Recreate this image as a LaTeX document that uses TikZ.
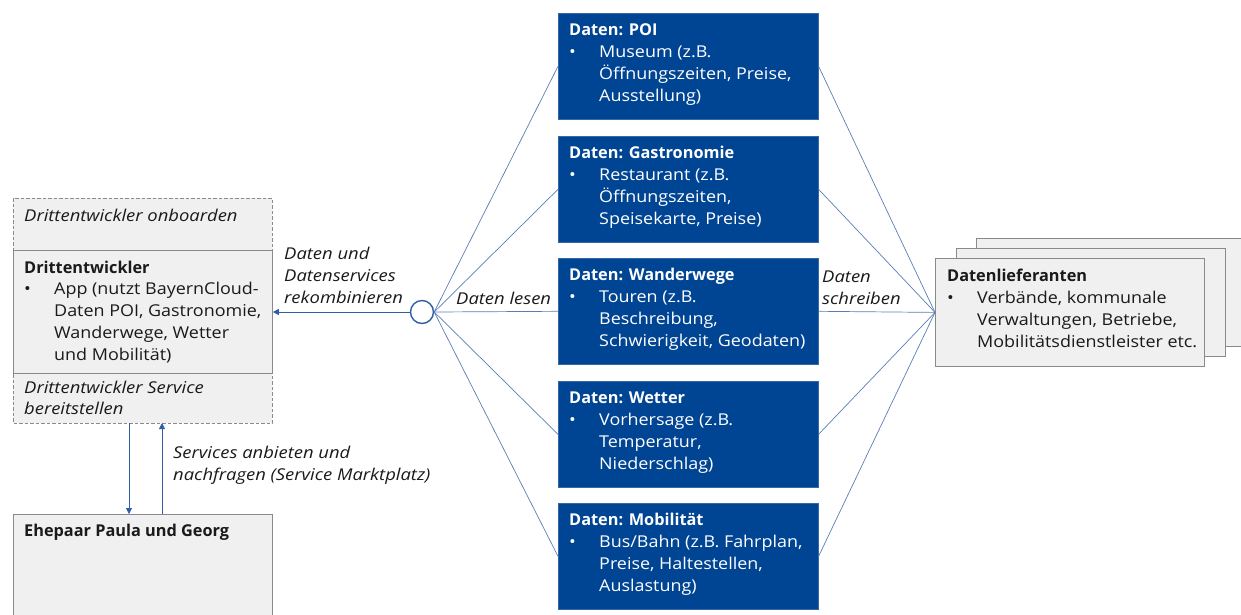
\documentclass[tikz,border=0pt]{standalone}
\usepackage{fontspec}
\setmainfont{Open Sans}[
  UprightFeatures={FakeStretch=1.1},
  ItalicFeatures={FakeStretch=1.13},
  BoldFeatures={FakeStretch=1.0}]
\usetikzlibrary{arrows.meta}
\definecolor{datablue}{HTML}{004494}
\definecolor{linkblue}{HTML}{5B7DB5}
\definecolor{arrowblue}{HTML}{2E5EA8}
\definecolor{panelgray}{HTML}{F0F0F0}
\definecolor{framegray}{HTML}{8A8A8A}
\definecolor{txt}{HTML}{1A1A1A}
% bullet with a 30pt hanging indent
\newcommand{\bulpt}{\makebox[30pt][l]{\textbullet}}
\newcommand{\bulind}{\hspace*{30pt}}
\newcommand{\firstline}{\rule{0pt}{16pt}}
\begin{document}
\begin{tikzpicture}[x=1pt,y=-1pt,
  every node/.style={font=\fontsize{16.3}{22}\selectfont},
  databox/.style={draw=datablue!80!white, line width=0.6pt, fill=datablue, anchor=north west,
    minimum width=260pt, minimum height=106pt, inner sep=0pt},
  graybox/.style={draw=framegray, line width=0.8pt, fill=panelgray, anchor=north west, inner sep=0pt},
  boxtext/.style={anchor=north west, inner sep=0pt, align=left, text=txt},
  whitetext/.style={boxtext, text=white},
  lbl/.style={anchor=north west, inner sep=0pt, align=left, text=txt, font=\fontsize{16.3}{22}\selectfont\itshape},
  link/.style={draw=linkblue, line width=0.7pt},
  flow/.style={draw=arrowblue, line width=0.8pt, -{Triangle[length=6pt,width=6pt]}},
  dashedframe/.style={draw=framegray, line width=0.8pt, dash pattern=on 3.5pt off 2pt}
]
\useasboundingbox (0,0) rectangle (1241,614);

% ---------- third-party developer stack ----------
\fill[panelgray] (13,198) rectangle (272,423);
\node[graybox, draw=none, minimum width=259pt, minimum height=52pt] (onb) at (13,198) {};
\node[graybox, draw=none, minimum width=259pt, minimum height=50pt] (serv) at (13,373) {};
\draw[dashedframe] (13,198) rectangle (272,423);
\node[graybox, minimum width=259pt, minimum height=123pt] (dev) at (13,250) {};

\node[boxtext, font=\fontsize{16.3}{22}\selectfont\itshape] (onbt) at (24,205)
  {\firstline Drittentwickler onboarden};
\node[boxtext, font=\fontsize{16.3}{21.7}\selectfont] (devt) at (24,257)
  {\firstline\textbf{Drittentwickler}\\
   \bulpt App (nutzt BayernCloud-\\
   \bulind Daten POI, Gastronomie,\\
   \bulind Wanderwege, Wetter\\
   \bulind und Mobilität)};
\node[boxtext, font=\fontsize{16.3}{21}\selectfont\itshape] (servt) at (24,377)
  {\firstline Drittentwickler Service\\ bereitstellen};

% ---------- end users ----------
\node[graybox, minimum width=259pt, minimum height=110pt] (user) at (13,514) {};
\node[boxtext] (usert) at (24,520) {\firstline\textbf{Ehepaar Paula und Georg}};

\coordinate (dn1) at (129,423);
\coordinate (dn2) at (129,514);
\coordinate (up1) at (162,514);
\coordinate (up2) at (162,423);
\draw[flow] (dn1) -- (dn2);
\draw[flow] (up1) -- (up2);
\node[lbl] (mkt) at (173,442) {\firstline Services anbieten und\\ nachfragen (Service Marktplatz)};

% ---------- data hub ----------
\node[circle, draw=arrowblue, line width=1.4pt, fill=white, minimum size=23pt, inner sep=0pt] (hub) at (422,312) {};
\draw[flow] (hub.west) -- (dev.east |- hub.west);
\node[lbl] (rekomb) at (284,243) {\firstline Daten und\\ Datenservices\\ rekombinieren};

% ---------- data categories ----------
\node[databox] (poi) at (558,13) {};
\node[databox] (gastro) at (558,136) {};
\node[databox] (wander) at (558,258) {};
\node[databox] (wetter) at (558,381) {};
\node[databox] (mobil) at (558,503) {};

\node[whitetext] (poit) at (569,19)
  {\firstline\textbf{Daten: POI}\\
   \bulpt Museum (z.B.\\ \bulind Öffnungszeiten, Preise,\\ \bulind Ausstellung)};
\node[whitetext] (gastrot) at (569,142)
  {\firstline\textbf{Daten: Gastronomie}\\
   \bulpt Restaurant (z.B.\\ \bulind Öffnungszeiten,\\ \bulind Speisekarte, Preise)};
\node[whitetext] (wandert) at (569,264)
  {\firstline\textbf{Daten: Wanderwege}\\
   \bulpt Touren (z.B.\\ \bulind Beschreibung,\\ \bulind Schwierigkeit, Geodaten)};
\node[whitetext] (wettert) at (569,387)
  {\firstline\textbf{Daten: Wetter}\\
   \bulpt Vorhersage (z.B.\\ \bulind Temperatur,\\ \bulind Niederschlag)};
\node[whitetext] (mobilt) at (569,509)
  {\firstline\textbf{Daten: Mobilität}\\
   \bulpt Bus/Bahn (z.B. Fahrplan,\\ \bulind Preise, Haltestellen,\\ \bulind Auslastung)};

% ---------- data suppliers (stacked) ----------
\node[graybox, minimum width=290pt, minimum height=108pt] (sup3) at (976,238) {};
\node[graybox, minimum width=269pt, minimum height=108pt] (sup2) at (956,248) {};
\node[graybox, minimum width=269pt, minimum height=108pt] (sup) at (935,258) {};
\node[boxtext] (supt) at (947,265)
  {\firstline\textbf{Datenlieferanten}\\
   \bulpt Verbände, kommunale\\ \bulind Verwaltungen, Betriebe,\\ \bulind Mobilitätsdienstleister etc.};

% ---------- read / write links ----------
\foreach \b in {poi,gastro,wander,wetter,mobil}{
  \draw[link] (hub.east) -- (\b.west);
  \draw[link] (\b.east) -- (sup.west);
}
\node[lbl] (lesen) at (456,288) {\firstline Daten lesen};
\node[lbl] (schreiben) at (822,266) {\firstline Daten\\ schreiben};
\end{tikzpicture}
\end{document}
